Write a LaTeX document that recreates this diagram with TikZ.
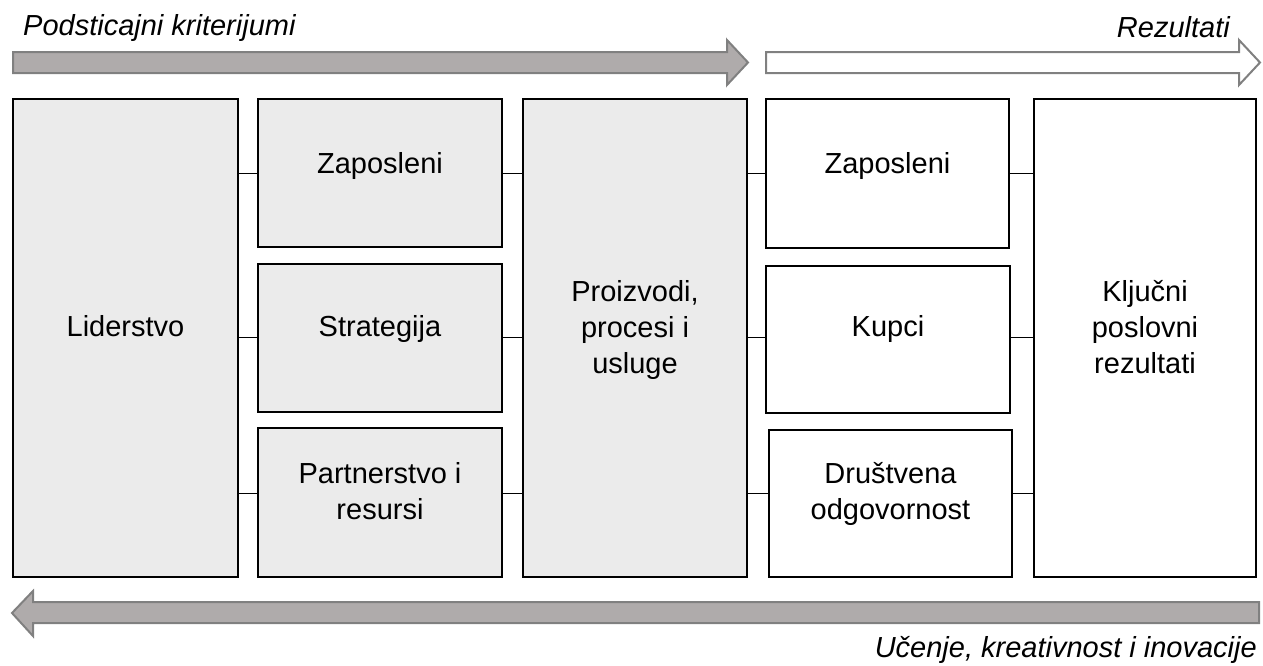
\documentclass[tikz,border=0pt]{standalone}
\usepackage{fontspec}
\setmainfont{Liberation Sans}
\definecolor{boxgray}{HTML}{EBEBEB}
\definecolor{arrowfill}{HTML}{AFABAB}
\definecolor{arrowedge}{HTML}{808080}
\begin{document}
\begin{tikzpicture}[x=1pt,y=-1pt,
  box/.style={draw=black,line width=1.8pt,rectangle,inner sep=0pt,outer sep=0pt},
  crit/.style={box,fill=boxgray},
  res/.style={box,fill=white},
  txt/.style={anchor=base,align=center,inner sep=0pt,
    font=\fontsize{29}{36}\selectfont},
  head/.style={inner sep=0pt,font=\fontsize{29}{36}\selectfont\itshape},
  band/.style={draw=arrowedge,line width=2pt,line join=miter},
  link/.style={draw=black,line width=0.9pt}]
\useasboundingbox (0,0) rectangle (1263,665);

% flow bands
\draw[band,fill=arrowfill] (13,52) -- (727,52) -- (727,40) -- (748,62.5)
  -- (727,85) -- (727,73) -- (13,73) -- cycle;
\draw[band,fill=white] (766,52) -- (1239,52) -- (1239,40) -- (1260,62.5)
  -- (1239,85) -- (1239,73) -- (766,73) -- cycle;
\draw[band,fill=arrowfill] (1259,602) -- (33,602) -- (33,591) -- (12,613)
  -- (33,636) -- (33,623) -- (1259,623) -- cycle;

% headings
\node[head,anchor=base west] (hcrit) at (23,35) {Podsticajni kriterijumi};
\node[head,anchor=base east] (hres) at (1230,37) {Rezultati};
\node[head,anchor=base east] (hlearn) at (1257,657) {Učenje, kreativnost i inovacije};

% enabler boxes
\node[crit,minimum width=225,minimum height=478] (lid) at (125.5,338) {};
\node[crit,minimum width=244,minimum height=148] (zapL) at (380,173) {};
\node[crit,minimum width=244,minimum height=148] (strat) at (380,338) {};
\node[crit,minimum width=244,minimum height=149] (parL) at (380,502.5) {};
\node[crit,minimum width=224,minimum height=478] (proc) at (635,338) {};

% result boxes
\node[res,minimum width=243,minimum height=149] (zapR) at (887.5,173.5) {};
\node[res,minimum width=244,minimum height=147] (kup) at (888,339.5) {};
\node[res,minimum width=243,minimum height=147] (dru) at (890.5,503.5) {};
\node[res,minimum width=222,minimum height=478] (klj) at (1145,338) {};

% box texts (base = baseline of the last line)
\node[txt] (tlid) at (125.5,336) {Liderstvo};
\node[txt] (tzapL) at (380,173) {Zaposleni};
\node[txt] (tstrat) at (380,336) {Strategija};
\node[txt] (tparL) at (380,519) {Partnerstvo i\\resursi};
\node[txt] (tproc) at (635,373) {Proizvodi,\\procesi i\\usluge};
\node[txt] (tzapR) at (887.5,173) {Zaposleni};
\node[txt] (tkup) at (888,336) {Kupci};
\node[txt] (tdru) at (890.5,519) {Društvena\\odgovornost};
\node[txt] (tklj) at (1145,373) {Ključni\\poslovni\\rezultati};

% row levels of the links
\coordinate (r1) at (0,173);
\coordinate (r2) at (0,337);
\coordinate (r3) at (0,493);

% links between columns
\foreach \a/\b/\r in {lid/zapL/r1, lid/strat/r2, lid/parL/r3,
    zapL/proc/r1, strat/proc/r2, parL/proc/r3,
    proc/zapR/r1, proc/kup/r2, proc/dru/r3,
    zapR/klj/r1, kup/klj/r2, dru/klj/r3}
  \draw[link] (\a.east |- \r) -- (\b.west |- \r);
\end{tikzpicture}
\end{document}
